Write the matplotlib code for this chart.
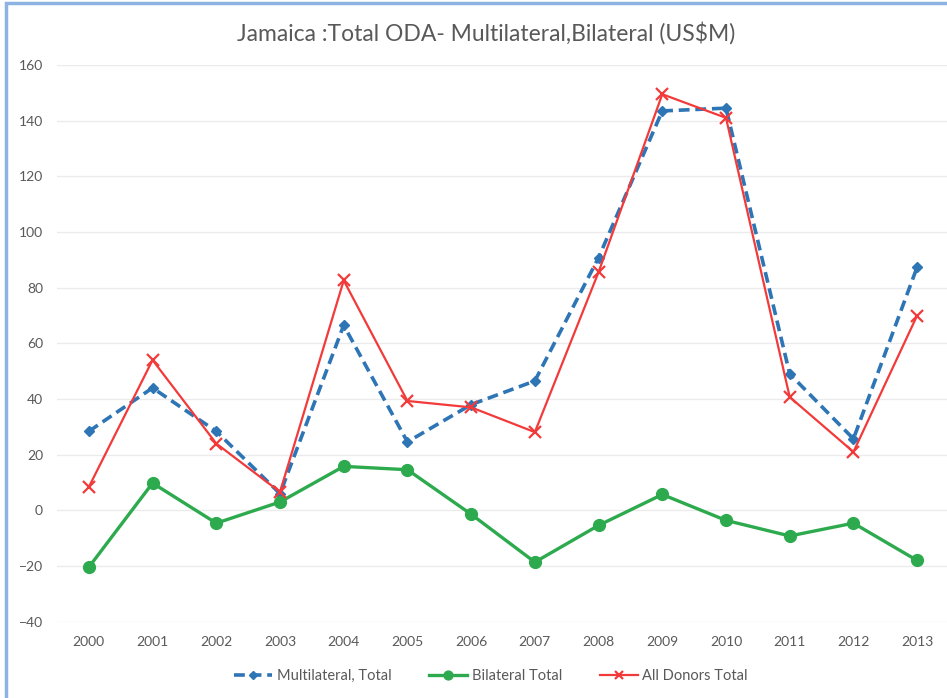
import matplotlib
matplotlib.use("Agg")
import matplotlib.pyplot as plt
from matplotlib.patches import Rectangle

plt.rcParams['font.family'] = ['Lato', 'DejaVu Sans']

years = ['2000', '2001', '2002', '2003', '2004', '2005', '2006',
         '2007', '2008', '2009', '2010', '2011', '2012', '2013']
multilateral = [28.4, 44, 28.4, 6, 66.5, 24.6, 38, 46.5, 90.8, 143.5, 144.5, 49, 25.7, 87.4]
bilateral = [-20.4, 9.8, -4.6, 3, 15.8, 14.6, -1.4, -18.6, -5.4, 5.7, -3.6, -9.2, -4.6, -18]
all_donors = [8.4, 54, 24, 6.6, 82.6, 39.3, 37, 28.1, 85.6, 149.5, 141, 40.7, 21, 70]
yticks = [-40, -20, 0, 20, 40, 60, 80, 100, 120, 140, 160]

W, H = 947, 698
fig = plt.figure(figsize=(W / 100, H / 100), dpi=100)

# light blue frame on left/top
fig.patches.append(Rectangle((6 / W, -0.1), 1.2, 1 - 3 / H + 0.1, transform=fig.transFigure,
                             fill=False, edgecolor='#8db3e2', linewidth=2.5))

ax = fig.add_axes([57 / W, 1 - 621.7 / H, 892 / W, (621.7 - 65) / H])
x = list(range(len(years)))

ax.plot(x, multilateral, color='#2e75b6', linestyle=(0, (3, 1.6)), linewidth=2.6,
        marker='D', markersize=5, label='Multilateral, Total', zorder=3)
ax.plot(x, bilateral, color='#2eaa4e', linewidth=2.4, marker='o', markersize=8.5,
        label='Bilateral Total', zorder=3)
ax.plot(x, all_donors, color='#f33a3a', linewidth=1.6, marker='x', markersize=8,
        markeredgewidth=1.6, label='All Donors Total', zorder=4)

ax.set_xlim(-0.5, len(years) - 0.5)
ax.set_ylim(-40, 160)
ax.set_yticks(yticks)
ax.set_xticks(x)
ax.set_xticklabels(years)
ax.grid(axis='y', color='#ebebeb', linewidth=1)
ax.set_axisbelow(True)
for s in ax.spines.values():
    s.set_visible(False)
ax.tick_params(length=0, labelsize=10, colors='#595959', pad=10)
ax.tick_params(axis='y', pad=10)

fig.text(486 / W, 1 - 33 / H, 'Jamaica :Total ODA- Multilateral,Bilateral (US$M)',
         ha='center', va='center', fontsize=16.5, color='#595959')

fig.legend(loc='center', bbox_to_anchor=(491 / W, 1 - 676 / H), ncol=3, frameon=False,
           fontsize=10.5, labelcolor='#595959', handlelength=2.6, columnspacing=2.6,
           handletextpad=0.3, markerscale=0.75)

fig.savefig('out.png', dpi=100)
